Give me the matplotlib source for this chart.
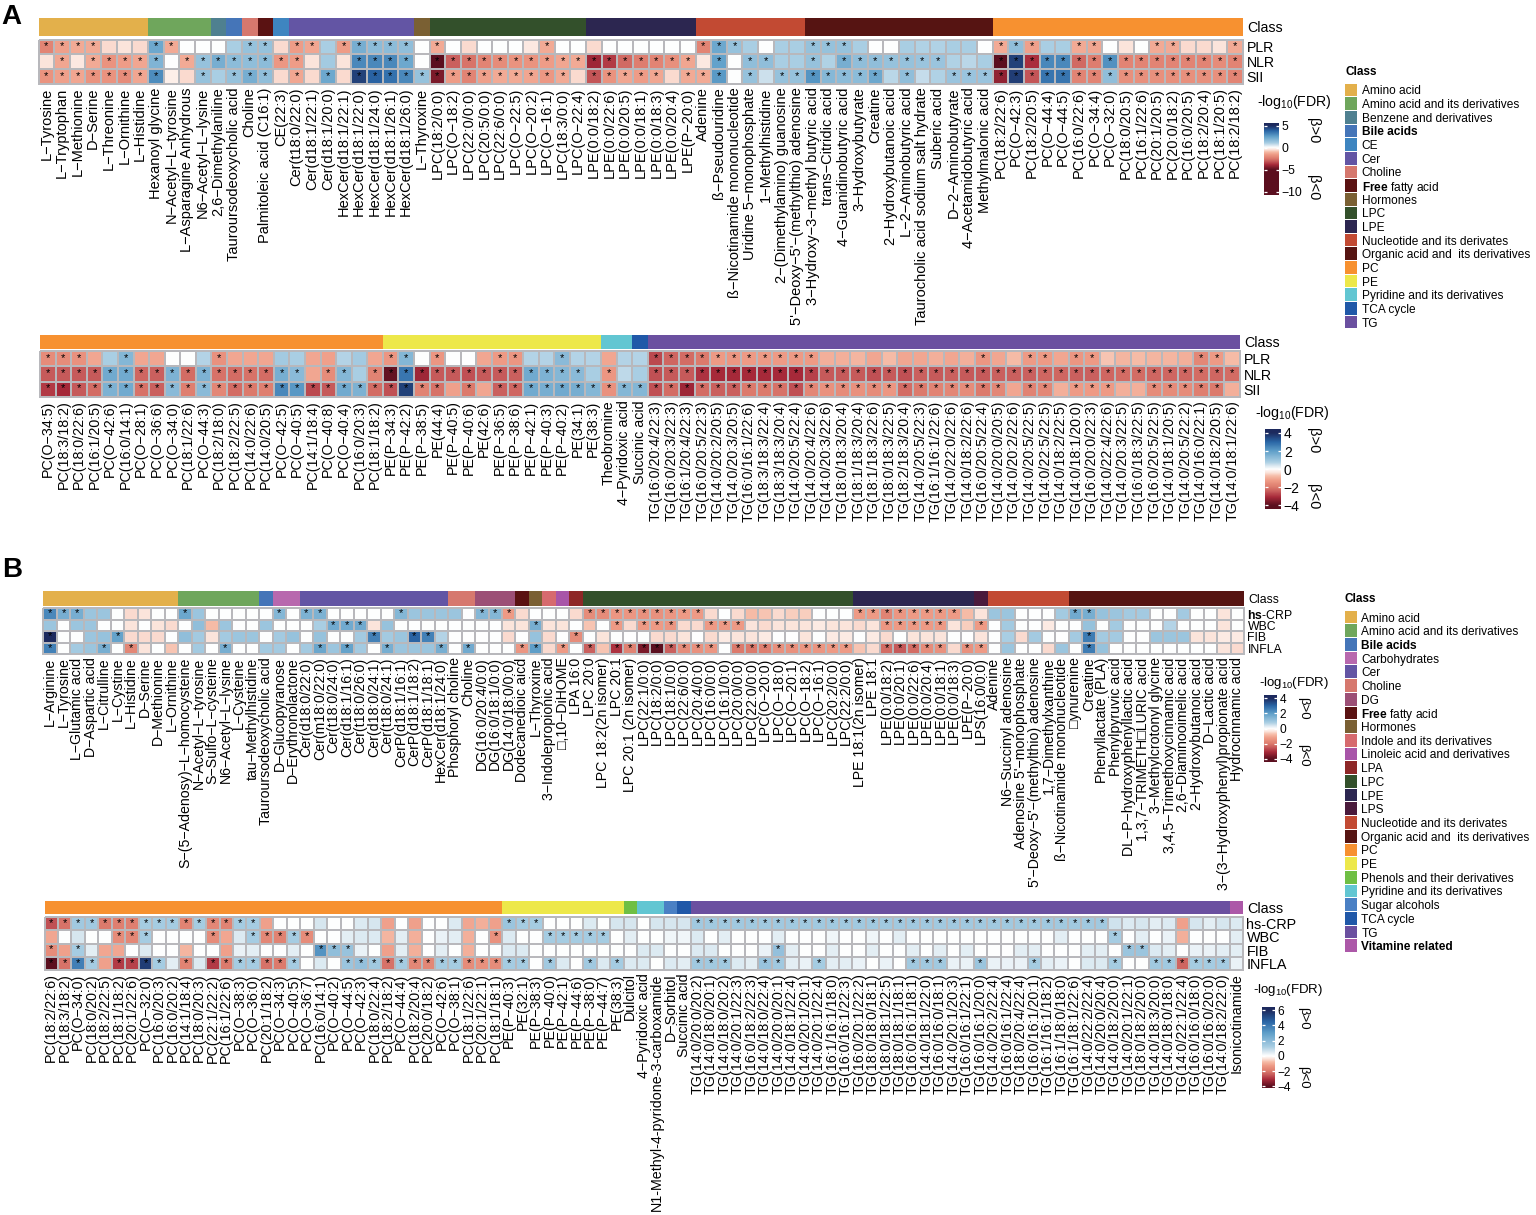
import numpy as np
import matplotlib
matplotlib.use("Agg")
import matplotlib.pyplot as plt
from matplotlib.colors import LinearSegmentedColormap, TwoSlopeNorm

plt.rcParams['font.family'] = ['Liberation Sans', 'DejaVu Sans']
plt.rcParams['mathtext.fontset'] = 'custom'
plt.rcParams['mathtext.rm'] = 'Liberation Sans'
plt.rcParams['mathtext.bf'] = 'Liberation Sans:bold'
plt.rcParams['mathtext.default'] = 'regular'

W, H = 1536, 1215

class_colors = {
    "Amino acid": "#E3B04B", "Amino acid and its derivatives": "#6FA65C",
    "Benzene and derivatives": "#4F8090", "Bile acids": "#4575B8", "CE": "#3E85C0",
    "Carbohydrates": "#B868AE", "Cer": "#6355A4", "Choline": "#D6786E", "DG": "#9C4F76",
    "Free fatty acid": "#5A1212", "Hormones": "#7A6033", "Indole and its derivatives": "#D66A6E",
    "Linoleic acid and derivatives": "#A855A8", "LPA": "#8E2727", "LPC": "#33502B",
    "LPE": "#2C2650", "LPS": "#4A1A3C", "Nucleotide and its derivates": "#C24A33",
    "Organic acid and  its derivatives": "#561412", "PC": "#F79130", "PE": "#EDE84A",
    "Phenols and their derivatives": "#6FBF44", "Pyridine and its derivatives": "#62C6D2",
    "Sugar alcohols": "#4A80C4", "TCA cycle": "#2058A8", "TG": "#6B50A0",
    "Vitamine related": "#AC58A8",
}

# ---- panel A, upper heatmap
a1_labels = ["L-Tyrosine", "L-Tryptophan", "L-Methionine", "D-Serine", "L-Threonine", "L-Ornithine", "L-Histidine",
    "Hexanoyl glycine", "N-Acetyl-L-tyrosine", "L-Asparagine Anhydrous", "N6-Acetyl-L-lysine", "2,6-Dimethylaniline",
    "Tauroursodeoxycholic acid", "Choline", "Palmitoleic acid (C16:1)", "CE(22:3)", "Cer(t18:0/22:0)", "Cer(d18:1/22:1)",
    "Cer(d18:1/20:0)", "HexCer(d18:1/22:1)", "HexCer(d18:1/22:0)", "HexCer(d18:1/24:0)", "HexCer(d18:1/26:1)",
    "HexCer(d18:1/26:0)", "L-Thyroxine", "LPC(18:2/0:0)", "LPC(O-18:2)", "LPC(22:0/0:0)", "LPC(20:5/0:0)", "LPC(22:6/0:0)",
    "LPC(O-22:5)", "LPC(O-20:2)", "LPC(O-16:1)", "LPC(18:3/0:0)", "LPC(O-22:4)", "LPE(0:0/18:2)", "LPE(0:0/22:6)",
    "LPE(0:0/20:5)", "LPE(0:0/18:1)", "LPE(0:0/18:3)", "LPE(0:0/20:4)", "LPE(P-20:0)", "Adenine", "ß-Pseudouridine",
    "ß-Nicotinamide mononucleotide", "Uridine 5-monophosphate", "1-Methylhistidine", "2-(Dimethylamino) guanosine",
    "5'-Deoxy-5'-(methylthio) adenosine", "3-Hydroxy-3-methyl butyric acid", "trans-Citridic acid", "4-Guanidinobutyric acid",
    "3-Hydroxybutyrate", "Creatine", "2-Hydroxybutanoic acid", "L-2-Aminobutyric acid", "Taurocholic acid sodium salt hydrate",
    "Suberic acid", "D-2-Aminobutyrate", "4-Acetamidobutyric acid", "Methylmalonic acid", "PC(18:2/22:6)", "PC(O-42:3)",
    "PC(18:2/20:5)", "PC(O-44:4)", "PC(O-44:5)", "PC(16:0/22:6)", "PC(O-34:4)", "PC(O-32:0)", "PC(18:0/20:5)", "PC(16:1/22:6)",
    "PC(20:1/20:5)", "PC(20:0/18:2)", "PC(16:0/20:5)", "PC(18:2/20:4)", "PC(18:1/20:5)", "PC(18:2/18:2)"]
a1_classes = ["Amino acid", "Amino acid and its derivatives", "Benzene and derivatives", "Bile acids", "Choline",
    "Free fatty acid", "CE", "Cer", "Hormones", "LPC", "LPE", "Nucleotide and its derivates",
    "Organic acid and  its derivatives", "PC"]
a1_counts = [7, 4, 1, 1, 1, 1, 1, 8, 1, 10, 7, 7, 12, 16]
a1_plr = [-2.2,-1.5,-1.3,-1.3,-0.6,-0.5,-0.6, 2.2,-1.3,0,0, 0, 1.0,1.4,1.4,-0.6,
    -1.6,-1.4,1.0,-1.6,2.0,1.6,1.6,1.5, 0, -1.3,0,-0.6,0,0,0,-0.4,-1.3,0,0,
    -0.6,0,0,0,0,0,0, -2.2,2.2,1.4,1.0,0,1.0,1.0,
    1.4,1.4,1.4,1.0,0,0,1.0,0.9,0.9,1.0,1.0,0,
    -1.3,1.5,-1.5,1.0,1.0,-1.3,-1.4,0,-0.5,0,-1.3,-1.3,-0.6,-0.6,-0.5,-1.3]
a1_nlr = [-0.5,-1.4,-0.4,-1.3,-1.8,-1.6,-1.4, 1.8,0,-1.3,1.4, 2.0, 1.6,1.5,1.6,-1.7,
    -1.6,-0.5,1.1,-0.5,3.0,3.0,3.0,2.2, 0, -5.0,-3.0,-2.6,-2.2,-2.0,-1.8,-1.8,-1.6,-1.4,-1.3,
    -4.0,-3.6,-2.8,-2.4,-2.2,-1.9,-1.4, -0.4,2.4,0,1.5,1.5,1.0,1.0,
    1.4,0.9,2.0,1.5,1.5,1.4,1.4,1.3,1.3,0.9,0.8,1.0,
    -5.0,4.5,-3.8,3.0,3.0,-2.8,-2.4,2.8,-2.2,-2.2,-2.2,-2.2,-2.2,-2.2,-2.0,-2.2]
a1_sii = [-1.8,-1.5,-1.4,-1.8,-1.8,-2.0,-1.4, 2.9,-0.3,-0.6,1.4, 1.0, 1.4,2.0,1.5,-0.6,
    -1.4,-0.6,2.2,-0.6,4.5,3.8,3.5,3.0, 1.4, -4.5,-1.6,-2.2,-1.5,-1.3,-1.3,-1.4,-1.7,-1.3,-0.6,
    -3.2,-1.8,-1.4,-1.6,-1.4,-0.6,-1.3, -1.3,2.6,0,1.4,0.6,1.4,1.4,
    2.7,1.7,1.6,1.6,2.2,0.8,1.5,0.7,0.9,1.3,1.3,1.3,
    -4.2,4.6,-3.2,3.4,3.4,-2.2,-2.2,1.5,-1.9,-1.9,-1.9,-1.9,-1.9,-1.9,-1.9,-2.2]

# ---- panel A, lower heatmap
a2_labels = ["PC(O-34:5)", "PC(18:3/18:2)", "PC(18:0/22:6)", "PC(16:1/20:5)", "PC(O-42:6)", "PC(16:0/14:1)", "PC(O-28:1)",
    "PC(O-36:6)", "PC(O-34:0)", "PC(18:1/22:6)", "PC(O-44:3)", "PC(18:2/18:0)", "PC(18:2/22:5)", "PC(14:0/22:6)", "PC(14:0/20:5)",
    "PC(O-42:5)", "PC(O-40:5)", "PC(14:1/18:4)", "PC(O-40:8)", "PC(O-40:4)", "PC(16:0/20:3)", "PC(18:1/18:2)", "PE(P-34:3)",
    "PE(P-42:2)", "PE(P-38:5)", "PE(44:4)", "PE(P-40:5)", "PE(P-40:6)", "PE(42:6)", "PE(P-36:5)", "PE(P-38:6)", "PE(P-42:1)",
    "PE(P-40:3)", "PE(P-40:2)", "PE(34:1)", "PE(38:3)", "Theobromine", "4-Pyridoxic acid", "Succinic acid",
    "TG(16:0/20:4/22:3)", "TG(16:0/20:3/22:3)", "TG(16:1/20:4/22:3)", "TG(16:0/20:5/22:3)", "TG(14:0/20:2/20:5)",
    "TG(14:0/20:3/20:5)", "TG(16:0/16:1/22:6)", "TG(18:3/18:3/22:4)", "TG(18:3/18:3/20:4)", "TG(14:0/20:5/22:4)",
    "TG(14:0/20:4/22:6)", "TG(14:0/20:3/22:6)", "TG(18:0/18:3/20:4)", "TG(18:1/18:3/20:4)", "TG(18:1/18:3/22:6)",
    "TG(18:0/18:3/22:5)", "TG(18:2/18:3/20:4)", "TG(14:0/20:5/22:3)", "TG(16:1/16:1/22:6)", "TG(14:0/22:0/22:6)",
    "TG(14:0/18:2/22:6)", "TG(16:0/20:5/22:4)", "TG(14:0/20:0/20:5)", "TG(14:0/20:2/22:6)", "TG(14:0/20:5/22:5)",
    "TG(14:0/22:5/22:5)", "TG(14:0/18:2/22:5)", "TG(14:0/18:1/20:0)", "TG(16:0/20:0/22:3)", "TG(14:0/22:4/22:6)",
    "TG(14:0/20:3/22:5)", "TG(16:0/18:3/22:5)", "TG(16:0/20:5/22:5)", "TG(14:0/18:1/20:5)", "TG(14:0/20:5/22:2)",
    "TG(14:0/16:0/22:1)", "TG(14:0/18:2/20:5)", "TG(14:0/18:1/22:6)"]
a2_classes = ["PC", "PE", "Pyridine and its derivatives", "TCA cycle", "TG"]
a2_counts = [22, 14, 2, 1, 38]
a2_plr = [-1.6,-1.6,-1.5,-1.1,0.8,1.4,-1.1,-1.1,0,0,0.7,-1.5,-1.1,-1.1,-1.1,0.9,0.8,-1.1,-1.2,0.7,0.9,-1.1,
    -1.4,1.4,0,-1.4,0,0,-1.1,-1.3,-1.4,0.7,0.7,1.3,0.7,0.7, -1.1,0.7, 0.7,
    -2.7,-2.3,-2.2,-2.0,-1.3,-1.4,-1.3,-1.3,-1.3,-1.3,-1.3,-1.0,-1.0,-0.9,-1.1,-0.8,-1.1,-1.1,-1.0,-1.1,-1.0,
    -1.4,-1.1,-0.8,-1.3,-1.3,-1.1,-1.4,-1.3,-0.7,-0.9,-0.8,-0.9,-0.9,-1.0,-1.7,-1.3,-0.8]
a2_nlr = [-2.5,-2.5,-2.5,-2.5,1.7,1.7,-2.3,-2.4,1.5,-2.2,1.5,-2.1,-2.2,-2.1,-2.2,1.6,1.3,-1.1,-1.6,1.4,0.8,-1.8,
    -3.9,2.7,-3.2,-2.5,-2.5,-2.6,-2.5,-2.5,-2.4,1.7,1.5,1.4,1.3,0.8, -1.4,0.6, 0.8,
    -2.6,-2.5,-2.5,-3.0,-3.1,-3.1,-3.1,-3.1,-3.1,-3.1,-2.8,-2.5,-2.5,-2.5,-2.6,-2.5,-2.6,-2.4,-2.5,-2.4,-2.5,
    -2.5,-2.4,-2.4,-2.4,-2.3,-2.3,-2.4,-2.4,-2.3,-2.2,-2.2,-2.3,-2.3,-2.3,-2.2,-2.3,-2.2]
a2_sii = [-2.9,-3.1,-2.5,-2.2,1.5,1.7,-2.1,-2.4,1.3,-1.9,1.3,-1.7,-2.2,-2.0,-1.9,2.4,2.1,-2.7,-2.5,1.7,1.5,-2.2,
    -2.6,3.6,-1.8,-2.1,-1.2,-2.0,-1.1,-2.4,-2.3,1.7,1.6,1.7,1.6,1.4, -1.5,1.4, 1.4,
    -2.6,-2.2,-3.2,-2.2,-2.4,-2.4,-2.0,-2.0,-2.1,-2.6,-1.7,-1.5,-1.6,-1.5,-1.6,-1.4,-2.2,-2.0,-1.8,-1.7,-1.6,
    -2.0,-1.7,-1.1,-1.8,-1.7,-1.0,-1.3,-1.3,-1.3,-1.0,-1.0,-1.6,-1.6,-1.6,-1.9,-2.0,-1.0]

# ---- panel B, upper heatmap
b1_labels = ["L-Arginine", "L-Tyrosine", "L-Glutamic acid", "D-Aspartic acid", "L-Citrulline", "L-Cystine", "L-Histidine",
    "D-Serine", "D-Methionine", "L-Ornithine", "S-(5-Adenosy)-L-homocysteine", "N-Acetyl-L-tyrosine", "S-Sulfo-L-cysteine",
    "N6-Acetyl-L-lysine", "L-Cysteine", "tau-Methylhistidine", "Tauroursodeoxycholic acid", "D-Glucopyranose",
    "D-Erythronolactone", "Cer(d18:0/22:0)", "Cer(m18:0/22:0)", "Cer(t18:0/24:0)", "Cer(d18:1/16:1)", "Cer(t18:0/26:0)",
    "Cer(d18:0/24:1)", "Cer(t18:0/24:1)", "CerP(d18:1/16:1)", "CerP(d18:1/18:2)", "CerP(d18:1/18:1)", "HexCer(d18:1/24:0)",
    "Phosphoryl choline", "Choline", "DG(16:0/20:4/0:0)", "DG(16:0/18:1/0:0)", "DG(14:0/18:0/0:0)", "Dodecanedioic aicd",
    "L-Thyroxine", "3-Indolepropionic acid", "□,10-DiHOME", "LPA 16:0", "LPC 20:0", "LPC 18:2(2n isomer)", "LPC 20:1",
    "LPC 20:1 (2n isomer)", "LPC(22:1/0:0)", "LPC(18:2/0:0)", "LPC(18:1/0:0)", "LPC(22:6/0:0)", "LPC(20:4/0:0)",
    "LPC(16:0/0:0)", "LPC(16:1/0:0)", "LPC(20:0/0:0)", "LPC(22:0/0:0)", "LPC(O-20:0)", "LPC(O-18:0)", "LPC(O-20:1)",
    "LPC(O-18:2)", "LPC(O-16:1)", "LPC(20:2/0:0)", "LPC(22:2/0:0)", "LPE 18:1(2n isomer)", "LPE 18:1", "LPE(0:0/18:2)",
    "LPE(0:0/20:1)", "LPE(0:0/22:6)", "LPE(0:0/20:4)", "LPE(0:0/18:1)", "LPE(0:0/18:3)", "LPE(P-20:0)", "LPS(16:0/0:0)",
    "Adenine", "N6-Succinyl adenosine", "Adenosine 5'-monophosphate", "5'-Deoxy-5'-(methylthio) adenosine",
    "1,7-Dimethylxanthine", "ß-Nicotinamide mononucleotide", "□ynurenine", "Creatine", "Phenyllactate (PLA)",
    "Phenylpyruvic acid", "DL-P-hydroxyphenyllactic acid", "1,3,7-TRIMETH□LURIC acid", "3-Methylcrotonyl glycine",
    "3,4,5-Trimethoxycinnamic acid", "2,6-Diaminooimelic acid", "2-Hydroxybutanoic acid", "D-Lactic acid",
    "3-(3-Hydroxyphenyl)propionate acid", "Hydrocinnamic acid"]
b1_classes = ["Amino acid", "Amino acid and its derivatives", "Bile acids", "Carbohydrates", "Cer", "Choline", "DG",
    "Free fatty acid", "Hormones", "Indole and its derivatives", "Linoleic acid and derivatives", "LPA", "LPC", "LPE",
    "LPS", "Nucleotide and its derivates", "Organic acid and  its derivatives"]
b1_counts = [10, 6, 1, 2, 11, 2, 3, 1, 1, 1, 1, 1, 20, 9, 1, 6, 13]
b1_crp = [2.4,1.6,1.6,1.0,1.0,0,-0.5,-0.4,0,0, 1.8,1.0,0,0,0,0, 0, 1.4,0,
    1.5,1.5,0,0,0,0,0,1.4,1.0,1.0,1.0, 1.0,0, 1.4,1.4,-1.3, -0.5, 0, 0, 0, -0.5,
    -1.6,-1.6,-1.4,-1.4,-1.5,-1.5,-1.4,-1.3,-1.3,-0.5,0,-0.5,-0.8,-0.7,-0.5,-0.6,-0.6,0,0,0,
    -1.3,-1.3,-1.8,-1.4,-1.3,-1.3,-1.3,-1.3,-0.8, -0.4,
    1.0,1.0,0,0,0,0.9, 1.7,1.6,1.1,1.0,0.9,0.9,0,0,0.9,0,0,-0.4,0]
b1_wbc = [1.0,0,1.0,1.0,0,0,-0.4,0,-0.4,-0.5, 0,1.2,-0.8,1.0,0,0, 1.0, 0,0,
    0,0.8,1.7,1.7,1.7,-0.4,1.1,0,0,0,0, 0,0, 0,0,-0.4, -0.4, 1.6, -0.4, -0.4, 0,
    -0.7,0,-1.3,-0.5,-1.3,-1.3,-1.4,-0.5,-0.5,-1.3,-1.3,-1.3,-0.4,-0.5,-0.4,-0.4,-0.4,-0.3,-0.4,-0.4,
    -0.5,-0.4,-1.4,-1.3,-1.3,-1.3,-1.3,-0.4,-0.6, -1.3,
    0,0.9,0,0,-0.3,0, 0,1.1,0,0.9,0,0,0,0.7,0,0,0,-0.4,0]
b1_fib = [4.0,0,0,1.0,1.1,1.9,-0.5,-0.5,-0.5,0, 1.2,0.9,-0.4,0.9,1.0,1.0, 0, 0.9,1.1,
    0,1.1,0,0,0.9,2.5,0.9,1.0,3.0,2.5,0.7, 0,0, 0,0,-0.5, 0, 1.1, -0.5, 0, -1.6,
    0,-0.4,0,0,0,-0.5,-0.5,-0.4,0,-0.5,-0.3,-0.4,-0.4,-0.3,0,0,-0.4,0,-0.3,-0.3,
    0,-0.3,-0.5,0,-0.4,-0.4,-0.4,0,0, -0.4,
    0,0.8,-0.5,0.9,0,0, 0.9,2.6,0.9,0.9,0,0,1.0,1.0,1.0,-0.4,-0.4,-0.3,-0.3]
b1_infla = [2.5,0,0.9,1.0,1.6,0,-1.7,-0.4,0,-0.7, 0,0.9,0,1.6,0,0, 0.9, 0.9,0,
    0.9,1.8,1.0,1.9,0.9,0,1.6,1.0,1.0,1.0,1.6, 0,1.7, 0,0,0, -1.4, 2.0, -0.5, -1.3, 0,
    -2.4,-0.7,-3.0,-1.8,-3.6,-4.0,-2.4,-1.6,-1.5,-1.4,0,-2.0,-2.0,-1.9,-1.5,-1.5,-1.4,-1.4,-1.3,-1.3,
    -0.7,-0.5,-2.2,-2.5,-2.2,-1.6,-1.5,-0.5,-1.5, -1.3,
    0,1.0,0,0,-0.5,1.0, 0,2.6,1.1,0,0,0,0,0,0,0,0,-0.4,-0.5]

# ---- panel B, lower heatmap
b2_labels = ["PC(18:2/22:6)", "PC(18:3/18:2)", "PC(O-34:0)", "PC(18:0/20:2)", "PC(18:2/22:5)", "PC(18:1/18:2)", "PC(20:1/22:6)",
    "PC(O-32:0)", "PC(16:0/20:3)", "PC(16:0/20:2)", "PC(14:1/18:4)", "PC(18:0/20:3)", "PC(22:1/22:2)", "PC(16:1/22:6)",
    "PC(O-38:3)", "PC(O-36:0)", "PC(20:1/18:2)", "PC(O-34:3)", "PC(O-40:5)", "PC(O-36:7)", "PC(16:0/14:1)", "PC(O-40:2)",
    "PC(O-44:5)", "PC(O-42:3)", "PC(18:0/22:4)", "PC(18:2/18:2)", "PC(O-44:4)", "PC(18:2/20:4)", "PC(20:0/18:2)", "PC(O-42:6)",
    "PC(O-38:1)", "PC(18:1/22:6)", "PC(20:1/22:1)", "PC(18:1/18:1)", "PE(P-40:3)", "PE(32:1)", "PE(P-38:3)", "PE(P-40:0)",
    "PE(P-42:1)", "PE(P-44:6)", "PE(P-38:0)", "PE(P-44:7)", "PE(38:3)", "Dulcitol", "4-Pyridoxic acid",
    "N1‐Methyl‐4‐pyridone‐3‐carboxamide", "D-Sorbitol", "Succinic acid", "TG(14:0/20:0/20:2)", "TG(14:0/18:0/20:1)",
    "TG(14:0/18:0/20:2)", "TG(14:0/20:1/22:3)", "TG(16:0/18:2/22:3)", "TG(14:0/18:0/22:4)", "TG(14:0/20:0/20:1)",
    "TG(14:0/18:1/22:4)", "TG(14:0/20:1/20:1)", "TG(14:0/20:1/22:4)", "TG(16:1/16:1/18:0)", "TG(16:0/16:1/22:3)",
    "TG(16:0/20:1/22:2)", "TG(18:0/18:0/18:1)", "TG(18:0/18:1/22:5)", "TG(18:0/18:1/18:1)", "TG(16:0/16:1/18:1)",
    "TG(14:0/18:1/22:0)", "TG(16:0/16:0/18:1)", "TG(14:0/20:1/20:3)", "TG(16:0/16:1/22:1)", "TG(16:0/16:1/20:0)",
    "TG(14:0/20:2/22:4)", "TG(16:0/16:1/22:4)", "TG(18:0/20:4/22:4)", "TG(16:0/16:1/20:1)", "TG(16:1/16:1/18:2)",
    "TG(16:1/18:0/18:0)", "TG(16:1/18:1/22:6)", "TG(14:0/22:2/22:4)", "TG(14:0/20:0/20:4)", "TG(14:0/18:2/20:0)",
    "TG(14:0/20:1/22:1)", "TG(18:0/18:2/20:0)", "TG(14:0/18:3/20:0)", "TG(14:0/18:0/18:0)", "TG(14:0/22:1/22:4)",
    "TG(16:0/16:0/18:0)", "TG(16:0/16:0/20:0)", "TG(14:0/18:2/22:0)", "Isonicotinamide"]
b2_classes = ["PC", "PE", "Phenols and their derivatives", "Pyridine and its derivatives", "Sugar alcohols", "TCA cycle",
    "TG", "Vitamine related"]
b2_counts = [34, 9, 1, 2, 1, 1, 40, 1]
b2_crp = [-2.6,-2.1,1.4,1.4,-2.0,-1.9,-1.9,1.3,1.3,1.3,-1.8,1.3,-1.7,-1.8,1.3,1.3,-1.2,0,0,0,0.6,0,0,0.5,0.6,-1.2,0,-1.2,0,0,0.5,-1.1,-1.0,-1.2,
    1.5,1.3,1.3,0,0,0,0.5,0,0.6, 0.6, 0,0.6, 0.6, 0.6,
    1.4,1.4,1.4,1.4,1.4,1.4,1.4,1.4,1.4,1.4,1.4,1.4,1.4,1.4,1.4,1.4,1.4,1.4,1.4,1.4,1.4,1.4,1.4,1.4,1.4,1.4,1.4,1.4,1.4,1.4,1.4,
    0.7,0.5,0.6,0.4,0.5,-1.2,0.6,0.4,0.6, 0.5]
b2_wbc = [-1.1,0,0.6,0,0,-1.6,-1.7,1.3,0,0,0,0,-1.6,-1.1,0.5,1.3,-1.7,-1.8,1.3,-1.6,0,0,0.4,0.5,0.5,-0.9,0.4,-1.0,0,0.3,0.4,-1.0,0,-1.5,
    0.5,0,0,1.3,1.3,1.3,1.3,1.3,0, 0.4, 0,0, 0.2, 0.2,
    0.5,0,0.4,0,0,0,0.4,0,0,0,0.2,0,0,0.2,0,0.4,0,0,0,0,0,0,0,0,0,0,0,0.4,0,0,0,1.3,0,0.4,0,0.3,-1.0,0,0,0, 0.4]
b2_fib = [-1.6,-1.2,1.3,0.4,-1.1,-1.1,0,0.5,0,0,-0.9,0,0,-1.2,0.3,0.4,0,0,0.4,0,3.3,1.8,1.6,0.3,0,-1.2,0.4,-1.0,0,0.4,0,-1.0,0,0,
    0.5,0.5,0,0,0,0,0,0,0, 0, 0.5,0.5, 0, 0,
    0.5,0.5,0,0,0,0.3,1.7,0.4,0,0,0.4,0,0,0.4,0,0,0.4,0,0.4,0,0.4,0,0,0,0.4,0.4,0,0,0,0.4,0.4,0,1.5,1.5,0.5,0.4,0,0.3,0.3,0.4, 0.4]
b2_infla = [-4.0,-2.1,3.8,1.3,-1.2,-2.9,-2.8,5.5,1.3,0.4,-1.8,0.5,-2.9,-2.0,1.3,1.3,-2.1,-2.0,1.3,0,0.5,0,1.5,1.7,1.4,-2.1,1.3,-1.7,-1.7,1.3,1.3,-1.6,-1.5,-1.6,
    1.3,1.3,0,1.4,0.5,0,1.4,0.5,1.3, 0.5, 0.5,0, 0.5, 0.4,
    1.4,1.4,1.4,0.5,0.4,1.6,1.4,0.4,0.3,1.3,0.4,0.4,0.3,0,0.3,0,1.4,1.4,1.4,0.3,0.3,1.5,0.3,0.3,0.3,1.3,0.4,0.3,0,0.5,0.5,1.3,0,0,1.4,1.4,-2.3,1.3,1.3,1.3, 0.3]

legend_a = ["Amino acid", "Amino acid and its derivatives", "Benzene and derivatives", "Bile acids", "CE", "Cer", "Choline",
    "Free fatty acid", "Hormones", "LPC", "LPE", "Nucleotide and its derivates", "Organic acid and  its derivatives", "PC",
    "PE", "Pyridine and its derivatives", "TCA cycle", "TG"]
legend_b = ["Amino acid", "Amino acid and its derivatives", "Bile acids", "Carbohydrates", "Cer", "Choline", "DG",
    "Free fatty acid", "Hormones", "Indole and its derivatives", "Linoleic acid and derivatives", "LPA", "LPC", "LPE", "LPS",
    "Nucleotide and its derivates", "Organic acid and  its derivatives", "PC", "PE", "Phenols and their derivatives",
    "Pyridine and its derivatives", "Sugar alcohols", "TCA cycle", "TG", "Vitamine related"]

# red side tuned against the cells of the lower panel A heatmap
cmap = LinearSegmentedColormap.from_list("fdr", [
    (0.0, "#5b0f1f"), (0.1125, "#a82a3a"), (0.1875, "#c65a5a"), (0.25, "#dc7a6c"), (0.3375, "#ee9a85"),
    (0.4, "#f6bba6"), (0.45, "#fbe3da"), (0.5, "#ffffff"),
    (0.55, "#d5e5ef"), (0.6, "#a9cee3"), (0.75, "#5f9fc9"), (0.875, "#2a66a6"), (1.0, "#1d2a5e")])

fig = plt.figure(figsize=(W / 100, H / 100), dpi=100)


def px_axes(x0, y0, x1, y1):
    return fig.add_axes([x0 / W, 1 - y1 / H, (x1 - x0) / W, (y1 - y0) / H])


def px_text(x, y, s, **kw):
    return fig.text(x / W, 1 - y / H, s, **kw)


def draw_heatmap(box, bar_y, rows, names, labels, classes, counts, vpos, vneg, size, row_size):
    x0, y0, x1, y1 = box
    vals = np.array(rows, dtype=float)
    norm = TwoSlopeNorm(vcenter=0, vmin=-vneg, vmax=vpos)

    bar = px_axes(x0, bar_y[0], x1, bar_y[1])
    lefts = np.cumsum([0] + counts[:-1])
    bar.bar(lefts, 1, width=counts, align="edge", color=[class_colors[c] for c in classes], linewidth=0)
    bar.set_xlim(0, vals.shape[1])
    bar.set_ylim(0, 1)
    bar.set_xticks([])
    bar.yaxis.tick_right()
    bar.set_yticks([0.5], ["Class"], fontsize=row_size)
    bar.tick_params(length=0, pad=3)
    for s in bar.spines.values():
        s.set_visible(False)

    ax = px_axes(x0, y0, x1, y1)
    ax.pcolormesh(vals, cmap=cmap, norm=norm, edgecolors="#b8b8bc", linewidth=1.1, clip_on=False)
    ax.set_xlim(0, vals.shape[1])
    ax.set_ylim(vals.shape[0], 0)
    ax.set_xticks(np.arange(vals.shape[1]) + 0.5, [s.replace("-", "−") for s in labels], rotation=90, fontsize=size)
    ax.yaxis.tick_right()
    ax.set_yticks(np.arange(vals.shape[0]) + 0.5, names, fontsize=row_size)
    ax.tick_params(length=0, pad=2.5)
    ax.tick_params(axis="x", pad=2.5)
    for s in ax.spines.values():
        s.set_visible(False)
    for r, c in zip(*np.nonzero(np.abs(vals) >= 1.3)):
        ax.text(c + 0.5, r + 0.45, "*", ha="center", va="center", fontsize=8, color="black")
    return norm


def draw_colorbar(box, top, bottom, ticks, norm, size, title_xy, title_size, beta_x, beta_y, beta_size):
    cax = px_axes(*box)
    grad = np.linspace(top, bottom, 300)[:, None]
    cax.imshow(grad, cmap=cmap, norm=norm, aspect="auto", extent=[0, 1, bottom, top])
    cax.hlines(ticks, 0, 0.2, color="white", linewidth=0.9)
    cax.hlines(ticks, 0.8, 1, color="white", linewidth=0.9)
    cax.set_xticks([])
    cax.yaxis.tick_right()
    cax.set_yticks(ticks, [str(t).replace("-", "−") for t in ticks], fontsize=size)
    cax.tick_params(length=0, pad=2)
    for s in cax.spines.values():
        s.set_visible(False)
    px_text(title_xy[0], title_xy[1], "-log$_{10}$(FDR)", fontsize=title_size, ha="left", va="center")
    px_text(beta_x, beta_y[0], "β>0", rotation=270, fontsize=beta_size, ha="center", va="center")
    px_text(beta_x, beta_y[1], "β<0", rotation=270, fontsize=beta_size, ha="center", va="center")


def draw_legend(names, x0, first, step, title_y):
    n = len(names)
    ax = px_axes(x0, first - step / 2, x0 + 12, first + (n - 0.5) * step)
    ax.barh(np.arange(n), 1, height=0.93, color=[class_colors[c] for c in names])
    ax.set_xlim(0, 1)
    ax.set_ylim(n - 0.5, -0.5)
    ax.set_xticks([])
    ax.yaxis.tick_right()
    shown = [s.replace("Free ", "$\\mathbf{Free}$ ") for s in names]
    ax.set_yticks(np.arange(n), shown, fontsize=8.55)
    ax.tick_params(length=0, pad=3.5)
    for lab, s in zip(ax.get_yticklabels(), names):
        if s in ("Bile acids", "Vitamine related"):
            lab.set_fontweight("bold")
    for s in ax.spines.values():
        s.set_visible(False)
    px_text(x0, title_y, "Class", fontsize=8.5, fontweight="bold", ha="left", va="center")


norm = draw_heatmap((38.5, 39.5, 1243, 84), (18, 35.5), [a1_plr, a1_nlr, a1_sii], ["PLR", "NLR", "SII"],
                    a1_labels, a1_classes, a1_counts, 5, 5, 10.5, 10.2)
draw_colorbar((1264, 122.7, 1279, 195), 5.7, -10.7, [5, 0, -5, -10], norm, 8.8, (1257, 102), 10.2, 1313, (131, 188), 10.5)

norm = draw_heatmap((40, 351, 1240, 397), (334.7, 349), [a2_plr, a2_nlr, a2_sii], ["PLR", "NLR", "SII"],
                    a2_labels, a2_classes, a2_counts, 4, 4, 10.3, 10.2)
draw_colorbar((1265, 429.3, 1281, 509), 4.4, -4.4, [4, 2, 0, -2, -4], norm, 10, (1255, 413), 10.2, 1313, (441, 497), 10.5)

norm = draw_heatmap((43.3, 608, 1244, 654), (590.7, 606), [b1_crp, b1_wbc, b1_fib, b1_infla],
                    ["$\\mathbf{hs}$-CRP", "WBC", "FIB", "INFLA"],
                    b1_labels, b1_classes, b1_counts, 4, 4, 10.2, 8.8)
draw_colorbar((1264, 695, 1277, 762), 4.4, -4.4, [4, 2, 0, -2, -4], norm, 8.6, (1259, 683), 9.5, 1303, (708, 755), 9.5)

norm = draw_heatmap((44.5, 917, 1243, 970), (901, 914), [b2_crp, b2_wbc, b2_fib, b2_infla],
                    ["hs-CRP", "WBC", "FIB", "INFLA"],
                    b2_labels, b2_classes, b2_counts, 6, 4, 10.3, 10.4)
draw_colorbar((1262, 1007, 1275, 1088), 6.4, -4.2, [6, 4, 2, 0, -2, -4], norm, 8.6, (1253, 990), 9.5, 1303, (1018, 1077), 9.5)

draw_legend(legend_a, 1345, 90, 13.65, 72)
draw_legend(legend_b, 1344.5, 617, 13.7, 599)

px_text(1, 17, "A", fontsize=20, fontweight="bold", ha="left", va="center")
px_text(2, 570, "B", fontsize=20, fontweight="bold", ha="left", va="center")

fig.savefig("out.png", dpi=100)
